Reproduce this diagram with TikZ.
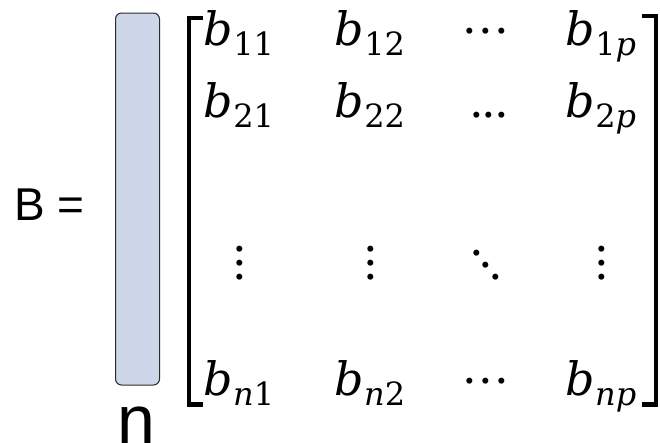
\documentclass[tikz,border=0pt]{standalone}
\usepackage{fontspec}
\newfontfamily\arialfont{Liberation Sans}
\newfontfamily\mserif{DejaVu Serif}
\definecolor{barfill}{HTML}{CED6E9}
\definecolor{barline}{HTML}{2B2B2B}
% b with subscript: #1 = subscript text
\newcommand\bsub[1]{{\itshape b}\raisebox{-10pt}{\fontsize{32}{36}\selectfont #1}}
\newcommand\ii[1]{{\itshape #1}}
% three dots: #1 = step, #2 #3 #4 = raise of each dot
\newcommand\dotrow[4]{\hbox{\makebox[#1]{\raisebox{#2}{.}}\makebox[#1]{\raisebox{#3}{.}}\makebox[#1]{\raisebox{#4}{.}}}}
\begin{document}
\begin{tikzpicture}[x=1pt,y=-1pt,
  entry/.style={inner sep=0pt,anchor=base,font=\mserif\fontsize{46}{55}\selectfont},
  label/.style={inner sep=0pt,anchor=base},
  bracket/.style={line width=4.5pt,line join=miter,line cap=rect}]
\useasboundingbox (0,0) rectangle (660,442);
% left label
\node[label,anchor=base west,font=\arialfont\fontsize{46}{55}\selectfont] (beq) at (14,220) {B =};
% bar
\node[draw=barline,line width=1pt,fill=barfill,rounded corners=6pt,
      minimum width=44pt,minimum height=372pt,inner sep=0pt] (bar) at (137.5,199) {};
\node[label,font=\arialfont\fontsize{68}{80}\selectfont] (nlab) at (136,443) {n};
% brackets
\draw[bracket] (201,18) -- (189,18) -- (189,404.5) -- (201,404.5);
\draw[bracket] (644,16) -- (656,16) -- (656,404.5) -- (644,404.5);
% row 1
\node[entry] (b11) at (239,45) {\bsub{11}};
\node[entry] (b12) at (370,45) {\bsub{12}};
\node[entry] (c13) at (486,45) {\dotrow{16pt}{12pt}{12pt}{12pt}};
\node[entry] (b1p) at (601,45) {\bsub{1\ii{p}}};
% row 2
\node[entry] (b21) at (239,117) {\bsub{21}};
\node[entry] (b22) at (370,117) {\bsub{22}};
\node[entry] (c23) at (489,117) {\dotrow{12.5pt}{0pt}{0pt}{0pt}};
\node[entry] (b2p) at (601,117) {\bsub{2\ii{p}}};
% row 3
\node[entry] (v31) at (240,279) {\dotrow{0pt}{28pt}{14pt}{0pt}};
\node[entry] (v32) at (371,279) {\dotrow{0pt}{28pt}{14pt}{0pt}};
\node[entry] (d33) at (486,279) {\dotrow{9.5pt}{24pt}{12pt}{0pt}};
\node[entry] (v34) at (602,279) {\dotrow{0pt}{28pt}{14pt}{0pt}};
% row 4
\node[entry] (bn1) at (239,395) {\bsub{\ii{n}1}};
\node[entry] (bn2) at (370,395) {\bsub{\ii{n}2}};
\node[entry] (cn3) at (486,395) {\dotrow{16pt}{12pt}{12pt}{12pt}};
\node[entry] (bnp) at (601,395) {\bsub{\ii{np}}};
\end{tikzpicture}
\end{document}
